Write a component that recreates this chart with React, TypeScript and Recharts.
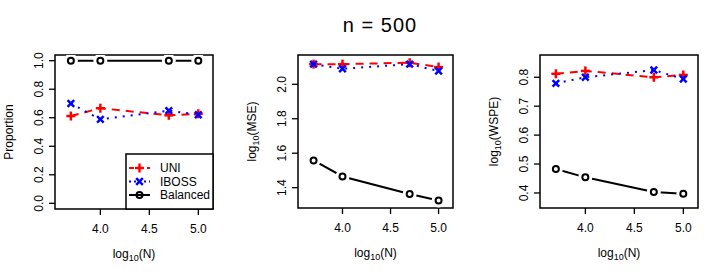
import React from 'react';
import { LineChart, Line, XAxis, YAxis, ReferenceArea, Legend } from 'recharts';

// log10(N) positions
const logN = [3.699, 4.0, 4.699, 5.0];
const xTicks = [4.0, 4.5, 5.0];

const propUni = [0.612, 0.667, 0.617, 0.628];
const propIboss = [0.70, 0.589, 0.65, 0.621];
const propBalanced = [1.0, 1.0, 1.0, 1.0];
const propTicks = [0.0, 0.2, 0.4, 0.6, 0.8, 1.0];

const mseUni = [2.117, 2.117, 2.125, 2.10];
const mseIboss = [2.117, 2.09, 2.117, 2.077];
const mseBalanced = [1.558, 1.465, 1.363, 1.325];
const mseTicks = [1.4, 1.6, 1.8, 2.0];

const wspeUni = [0.812, 0.822, 0.80, 0.808];
const wspeIboss = [0.779, 0.80, 0.825, 0.794];
const wspeBalanced = [0.483, 0.454, 0.403, 0.397];
const wspeTicks = [0.4, 0.5, 0.6, 0.7, 0.8];

const FONT = '"Liberation Sans", Arial, Helvetica, sans-serif';
const RED = '#ff0000';
const BLUE = '#0000ff';
const XDOMAIN: [number, number] = [3.537, 5.15];
const UNI_DASH = '8 6';
const IBOSS_DASH = '2 6';

function buildData(uni: number[], iboss: number[], bal: number[]) {
  return logN.map((x, i) => ({ x, uni: uni[i], iboss: iboss[i], balanced: bal[i] }));
}

const PlusMark = ({ cx, cy }: { cx: number; cy: number }) => (
  <g>
    <line x1={cx - 4.5} y1={cy} x2={cx + 4.5} y2={cy} stroke={RED} strokeWidth={2.5} />
    <line x1={cx} y1={cy - 4.5} x2={cx} y2={cy + 4.5} stroke={RED} strokeWidth={2.5} />
  </g>
);

const CrossMark = ({ cx, cy }: { cx: number; cy: number }) => (
  <g>
    <line x1={cx - 3.3} y1={cy - 3.3} x2={cx + 3.3} y2={cy + 3.3} stroke={BLUE} strokeWidth={2.5} />
    <line x1={cx - 3.3} y1={cy + 3.3} x2={cx + 3.3} y2={cy - 3.3} stroke={BLUE} strokeWidth={2.5} />
  </g>
);

const CircleMark = ({ cx, cy, halo }: { cx: number; cy: number; halo?: boolean }) => (
  <g>
    {halo && <circle cx={cx} cy={cy} r={7} fill="#fff" stroke="none" />}
    <circle cx={cx} cy={cy} r={3} fill="none" stroke="#000" strokeWidth={2} />
  </g>
);

const LegendBox = () => {
  const rows = [
    { name: 'UNI', color: RED, dash: '5 4', y: 14 },
    { name: 'IBOSS', color: BLUE, dash: '2 3', y: 27.5 },
    { name: 'Balanced', color: '#000', dash: undefined, y: 41 },
  ];
  return (
    <svg width={87} height={55} style={{ display: 'block', overflow: 'visible' }}>
      <rect x={0} y={0} width={87} height={55} fill="#fff" stroke="#000" strokeWidth={1.5} />
      {rows.map((r) => (
        <g key={r.name}>
          <line x1={3} y1={r.y} x2={24} y2={r.y} stroke={r.color} strokeWidth={2} strokeDasharray={r.dash} />
          {r.name === 'UNI' && <PlusMark cx={13.5} cy={r.y} />}
          {r.name === 'IBOSS' && <CrossMark cx={13.5} cy={r.y} />}
          {r.name === 'Balanced' && <CircleMark cx={13.5} cy={r.y} />}
          <text x={34} y={r.y + 4.3} fontSize={12} fontFamily={FONT} fill="#000">
            {r.name}
          </text>
        </g>
      ))}
    </svg>
  );
};

type PanelProps = {
  left: number;
  uni: number[];
  iboss: number[];
  balanced: number[];
  yDomain: [number, number];
  yTicks: number[];
  yLabel: string;
  margin: { top: number; right: number; bottom: number; left: number };
  showLegend?: boolean;
};

const Panel: React.FC<PanelProps> = (input) => {
  const data = buildData(input.uni, input.iboss, input.balanced);
  const m = input.margin;
  const boxLeft = m.left + 40;
  const boxRight = 242 - m.right;
  const boxTop = m.top;
  const boxBottom = 278 - m.bottom - 30;
  const midX = (boxLeft + boxRight) / 2;
  const midY = (boxTop + boxBottom) / 2;

  const xTick = (p: any) => (
    <text x={p.x} y={boxBottom + 24} textAnchor="middle" fontSize={12} fontFamily={FONT} fill="#000">
      {Number(p.payload.value).toFixed(1)}
    </text>
  );
  const yTick = (p: any) => {
    const cx = boxLeft - 12;
    return (
      <text x={cx} y={p.y} textAnchor="middle" fontSize={12} fontFamily={FONT} fill="#000"
        transform={`rotate(-90, ${cx}, ${p.y})`}>
        {Number(p.payload.value).toFixed(1)}
      </text>
    );
  };

  return (
    <div style={{ position: 'absolute', left: input.left, top: 0 }}>
      <LineChart width={242} height={278} data={data} margin={m}>
        <XAxis type="number" dataKey="x" domain={XDOMAIN} ticks={xTicks} allowDataOverflow
          axisLine={false} tickLine={{ stroke: '#000', strokeWidth: 1.3 }} tickSize={6} height={30}
          tick={xTick} interval={0}
          label={{
            content: () => (
              <text x={midX} y={boxBottom + 49} textAnchor="middle" fontSize={12} fontFamily={FONT} fill="#000">
                log<tspan fontSize={9} dy={3}>10</tspan><tspan dy={-3}>(N)</tspan>
              </text>
            ),
          }}
        />
        <YAxis type="number" domain={input.yDomain} ticks={input.yTicks} allowDataOverflow
          axisLine={false} tickLine={{ stroke: '#000', strokeWidth: 1.3 }} tickSize={6} width={40}
          tick={yTick} interval={0}
          label={{
            content: () => {
              const lx = boxLeft - 42;
              return (
                <text x={lx} y={midY} textAnchor="middle" fontSize={12} fontFamily={FONT} fill="#000"
                  transform={`rotate(-90, ${lx}, ${midY})`}>
                  {input.yLabel === 'Proportion' ? 'Proportion' : (
                    <>log<tspan fontSize={9} dy={3}>10</tspan><tspan dy={-3}>({input.yLabel})</tspan></>
                  )}
                </text>
              );
            },
          }}
        />
        <ReferenceArea x1={XDOMAIN[0]} x2={XDOMAIN[1]} y1={input.yDomain[0]} y2={input.yDomain[1]}
          fill="none" stroke="#000" strokeWidth={1.5} fillOpacity={0} ifOverflow="visible" />
        <Line type="linear" dataKey="balanced" stroke="#000" strokeWidth={2} isAnimationActive={false}
          dot={(p: any) => <CircleMark key={p.index} cx={p.cx} cy={p.cy} halo />} />
        <Line type="linear" dataKey="uni" stroke={RED} strokeWidth={2} strokeDasharray={UNI_DASH}
          isAnimationActive={false}
          dot={(p: any) => <PlusMark key={p.index} cx={p.cx} cy={p.cy} />} />
        <Line type="linear" dataKey="iboss" stroke={BLUE} strokeWidth={2} strokeDasharray={IBOSS_DASH}
          isAnimationActive={false}
          dot={(p: any) => <CrossMark key={p.index} cx={p.cx} cy={p.cy} />} />
        {input.showLegend && (
          <Legend layout="horizontal" verticalAlign="middle" align="center" content={() => <LegendBox />}
            wrapperStyle={{ position: 'absolute', left: 126, top: 154, width: 87, height: 55 }} />
        )}
      </LineChart>
    </div>
  );
};

export default function App() {
  return (
    <div style={{ position: 'absolute', left: 0, top: 0, width: 727, height: 278, background: '#fff', fontFamily: FONT }}>
      <svg width={727} height={40} style={{ position: 'absolute', left: 0, top: 0 }}>
        <text x={380} y={31.5} textAnchor="middle" fontSize={20} letterSpacing={1} fontFamily={FONT} fill="#000">n = 500</text>
      </svg>
      <Panel left={0} uni={propUni} iboss={propIboss} balanced={propBalanced}
        yDomain={[-0.04, 1.04]} yTicks={propTicks} yLabel="Proportion"
        margin={{ top: 55, right: 29, bottom: 39, left: 15 }} showLegend />
      <Panel left={242} uni={mseUni} iboss={mseIboss} balanced={mseBalanced}
        yDomain={[1.282, 2.17]} yTicks={mseTicks} yLabel="MSE"
        margin={{ top: 55, right: 31, bottom: 40, left: 16 }} />
      <Panel left={485} uni={wspeUni} iboss={wspeIboss} balanced={wspeBalanced}
        yDomain={[0.348, 0.877]} yTicks={wspeTicks} yLabel="WSPE"
        margin={{ top: 55, right: 29, bottom: 40, left: 15 }} />
    </div>
  );
}
